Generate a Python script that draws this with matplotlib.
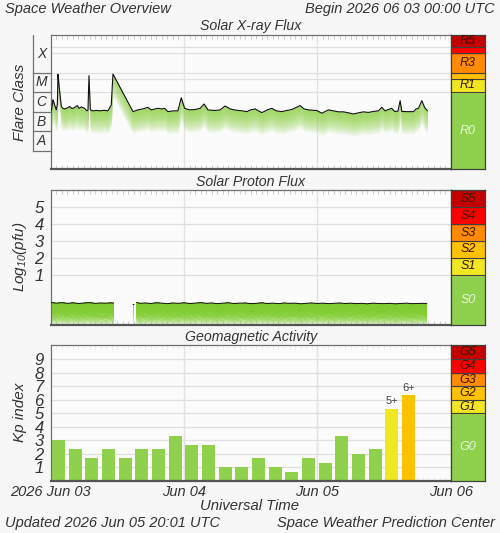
import matplotlib

matplotlib.use("Agg")
import matplotlib.pyplot as plt
import numpy as np

plt.rcParams["font.family"] = "Liberation Sans"
plt.rcParams["font.style"] = "italic"
plt.rcParams["mathtext.fontset"] = "custom"
plt.rcParams["mathtext.rm"] = "Liberation Sans:italic"
plt.rcParams["mathtext.it"] = "Liberation Sans:italic"
plt.rcParams["mathtext.default"] = "it"

# --- data ---
xray_hours = [0.0, 0.2, 0.41, 0.55, 0.72, 1.0, 1.2, 1.31, 1.45, 1.62, 1.91, 2.2, 2.6, 3.0, 3.42,
              3.8, 4.2, 4.79, 5.1, 5.5, 6.1, 6.5, 6.71, 6.89, 7.13, 7.6, 8.3, 8.9, 9.6, 10.3,
              10.9, 11.21, 14.81, 15.7, 16.6, 17.5, 18.1, 18.8, 19.3, 20.0, 20.5, 21.1, 22.0,
              22.9, 23.5, 24.1, 25.0, 26.0, 26.9, 27.6, 28.3, 29.0, 29.6, 30.5, 31.4, 32.3,
              33.0, 33.8, 34.5, 35.3, 36.0, 36.8, 37.4, 38.0, 39.0, 39.8, 40.6, 41.6, 42.5,
              43.4, 44.9, 45.6, 46.4, 47.2, 47.9, 48.8, 50.0, 50.9, 51.8, 52.7, 53.6, 54.5,
              55.4, 56.3, 57.2, 58.1, 59.0, 59.6, 60.2, 60.8, 61.4, 61.9, 62.5, 62.9, 63.2,
              64.2, 65.3, 65.8, 66.2, 66.8, 67.2, 67.4, 67.8]
xray_log = [-5.99, -5.85, -5.39, -5.50, -5.65, -5.90, -5.60, -4.08, -4.50, -4.97, -5.73, -5.82,
            -5.85, -5.80, -5.73, -5.83, -5.80, -5.68, -5.82, -5.75, -5.82, -5.95, -5.90, -4.15,
            -5.90, -5.95, -5.93, -5.95, -5.92, -5.95, -5.65, -4.07, -5.99, -5.90, -5.85, -5.77,
            -5.90, -5.85, -5.82, -5.85, -5.82, -5.99, -5.95, -5.95, -5.28, -5.82, -5.90, -5.88,
            -5.82, -5.60, -5.90, -5.92, -5.93, -5.90, -5.70, -5.85, -5.90, -5.93, -5.95, -5.99,
            -5.90, -5.85, -5.95, -6.04, -5.90, -5.82, -5.95, -5.99, -5.93, -5.88, -5.68, -5.85,
            -5.90, -5.92, -5.93, -6.07, -5.90, -5.95, -6.00, -6.00, -6.05, -6.11, -6.05, -6.00,
            -6.03, -5.98, -5.95, -5.77, -5.95, -5.88, -5.82, -5.98, -5.97, -5.43, -5.98, -5.99,
            -5.99, -5.85, -5.82, -5.43, -5.70, -5.82, -5.94]

proton_hours = [0, 1, 2, 3, 4, 5, 6, 7, 8, 9, 10, 11, 11.3, 12,
                14.85, 14.95, 15.2,
                15.5, 16, 17, 18, 19, 20, 21, 22, 23, 24, 25, 26, 27, 28, 29, 30, 31, 32, 33, 34,
                35, 36, 37, 38, 39, 40, 41, 42, 43, 44, 45, 46, 47, 48, 49, 50, 51, 52, 53, 54,
                55, 56, 57, 58, 59, 60, 61, 62, 63, 64, 65, 66, 67, 67.7]
proton_log = [-0.66, -0.70, -0.67, -0.71, -0.68, -0.72, -0.69, -0.67, -0.71, -0.69, -0.70, -0.68,
              -0.70, np.nan,
              -0.78, -0.78, np.nan,
              -0.66, -0.71, -0.69, -0.72, -0.68, -0.70, -0.73, -0.69, -0.71, -0.68, -0.72, -0.70,
              -0.67, -0.71, -0.69, -0.73, -0.70, -0.68, -0.72, -0.70, -0.69, -0.73, -0.71, -0.68,
              -0.72, -0.70, -0.73, -0.69, -0.71, -0.70, -0.74, -0.71, -0.69, -0.72, -0.70, -0.73,
              -0.71, -0.69, -0.72, -0.70, -0.73, -0.71, -0.74, -0.70, -0.72, -0.73, -0.71, -0.74,
              -0.72, -0.70, -0.73, -0.72, -0.71, -0.73]

kp_values = [3.0, 2.33, 1.67, 2.33, 1.67, 2.33, 2.33, 3.33, 2.67, 2.67, 1.0, 1.0,
             1.67, 1.0, 0.67, 1.67, 1.33, 3.33, 2.0, 2.33, 5.33, 6.33]
kp_labels = ["", "", "", "", "", "", "", "", "", "", "", "",
             "", "", "", "", "", "", "", "", "5+", "6+"]

day_labels = ["2026 Jun 03", "Jun 04", "Jun 05", "Jun 06"]
flare_classes = ["A", "B", "C", "M", "X"]

r_names = ["R0", "R1", "R2", "R3", "R4", "R5"]
r_bounds = [-8.92, -5.0, -4.3, -4.0, -3.0, -2.7, -2.06]
s_names = ["S0", "S1", "S2", "S3", "S4", "S5"]
s_bounds = [-2.0, 1.0, 2.0, 3.0, 4.0, 5.0, 6.03]
g_names = ["G0", "G1", "G2", "G3", "G4", "G5"]
g_bounds = [0.0, 5.0, 6.0, 7.0, 8.0, 9.0, 10.06]

SCALE_COLORS = ["#8fd04c", "#f0e622", "#ffc200", "#ff8a00", "#ff0000", "#c40000"]
GREEN = "#80cc30"
TXT = "#333333"
BG = "#f7f7f7"
IT = dict(family="Liberation Sans", style="italic", color=TXT)

W, H = 500, 533
fig = plt.figure(figsize=(5.0, 5.33), dpi=100, facecolor=BG)


def px_axes(left, top, right, bottom):
    return fig.add_axes([left / W, 1 - bottom / H, (right - left) / W, (bottom - top) / H])


def style_main(ax, ylim):
    ax.set_facecolor("#fbfbfb")
    ax.set_xlim(0, 72)
    ax.set_ylim(*ylim)
    for s in ax.spines.values():
        s.set_color("#707070")
        s.set_linewidth(0.9)
    ax.spines["bottom"].set_color("#555555")
    ax.spines["bottom"].set_linewidth(1.6)
    ax.set_xticks([0, 24, 48, 72])
    ax.set_xticks(np.arange(0, 73, 1), minor=True)
    ax.tick_params(axis="x", which="major", length=0, labelbottom=False)
    ax.tick_params(axis="x", which="minor", direction="in", top=True, bottom=True,
                   length=3, width=0.6, color="#c4c4c4")
    ax.tick_params(axis="y", length=0)
    for d in (24, 48):
        ax.axvline(d, color="#e2e2e2", lw=0.9, zorder=0)


def gradient_fill(ax, x, y, depth, n=40, alpha0=0.95):
    x = np.asarray(x, dtype=float)
    y = np.asarray(y, dtype=float)
    for i in range(n):
        top = y - depth * i / n
        bot = y - depth * (i + 1) / n
        a = alpha0 * (1 - (i / n) ** 1.4)
        ax.fill_between(x, bot, top, color=GREEN, alpha=a, linewidth=0,
                        antialiased=False, zorder=2)


def scale_bar(ax, names, bounds, shown):
    ax.set_xlim(0, 1)
    ax.set_ylim(bounds[0], bounds[-1])
    ax.set_xticks([])
    ax.set_yticks([])
    for s in ax.spines.values():
        s.set_color("#404040")
        s.set_linewidth(0.9)
    for i, name in enumerate(names):
        lo, hi = bounds[i], bounds[i + 1]
        ax.axhspan(lo, hi, color=SCALE_COLORS[i], zorder=1)
        ax.axhline(hi, color="#404040", lw=0.8, zorder=2)
        if name in shown:
            c = "#eaf6dc" if i == 0 else "#3a1500"
            ax.text(0.5, (lo + hi) / 2, name, ha="center", va="center", fontsize=9,
                    family="Liberation Sans", style="italic", color=c, zorder=3)


# --- header / footer ---
fig.text(5 / W, 1 - 9 / H, "Space Weather Overview", ha="left", va="center", fontsize=10.5, **IT)
fig.text(495 / W, 1 - 9 / H, "Begin 2026 06 03 00:00 UTC", ha="right", va="center",
         fontsize=10.5, **IT)
fig.text(5 / W, 1 - 523 / H, "Updated 2026 Jun 05 20:01 UTC", ha="left", va="center",
         fontsize=10.5, **IT)
fig.text(495 / W, 1 - 523 / H, "Space Weather Prediction Center", ha="right", va="center",
         fontsize=10.5, **IT)

# --- X-ray panel ---
ax1 = px_axes(50.7, 34.7, 450.7, 169)
style_main(ax1, (r_bounds[0], r_bounds[-1]))
for v in r_bounds[1:-1]:
    ax1.axhline(v, color="#e0e0e0", lw=0.9, zorder=0)
ax1.set_yticks([])
gradient_fill(ax1, xray_hours, xray_log, 1.15)
ax1.plot(xray_hours, xray_log, color="#111111", lw=0.8, zorder=3)
fig.text(250.7 / W, 1 - 26 / H, "Solar X-ray Flux", ha="center", va="center", fontsize=10.2, **IT)

axc = px_axes(32.7, 34.7, 50.7, 169)
axc.set_xlim(0, 1)
axc.set_ylim(r_bounds[0], r_bounds[-1])
axc.axis("off")
axc.plot([0, 0], [-8, r_bounds[-1]], color="#707070", lw=0.9, clip_on=False)
for k in range(-8, -3):
    axc.plot([0, 1], [k, k], color="#707070", lw=0.9, clip_on=False)
for i, c in enumerate(flare_classes):
    hi = -8 + i + 1 if c != "X" else r_bounds[-1]
    axc.text(0.5, (-8 + i + hi) / 2, c, ha="center", va="center", fontsize=10, **IT)
fig.text(20 / W, 1 - 102 / H, "Flare Class", rotation=90, ha="center", va="center",
         fontsize=11, **IT)

axr = px_axes(450.7, 34.7, 485, 169)
scale_bar(axr, r_names, r_bounds, ["R0", "R1", "R3", "R5"])

# --- proton panel ---
ax2 = px_axes(50.7, 190, 450.7, 325)
style_main(ax2, (s_bounds[0], s_bounds[-1]))
for v in range(1, 6):
    ax2.axhline(v, color="#e0e0e0", lw=0.9, zorder=0)
ax2.set_yticks(range(1, 6))
ax2.tick_params(axis="y", labelsize=12, pad=5, labelcolor=TXT)
gradient_fill(ax2, proton_hours, proton_log, 1.3)
ax2.plot(proton_hours, proton_log, color="#111111", lw=0.7, zorder=3)
fig.text(250.7 / W, 1 - 182 / H, "Solar Proton Flux", ha="center", va="center", fontsize=10.2,
         **IT)
fig.text(20 / W, 1 - 257 / H, "Log$_{10}$(pfu)", rotation=90, ha="center", va="center",
         fontsize=11, **IT)

axs = px_axes(450.7, 190, 485, 325)
scale_bar(axs, s_names, s_bounds, s_names)

# --- Kp panel ---
ax3 = px_axes(50.7, 345, 450.7, 480.8)
style_main(ax3, (g_bounds[0], g_bounds[-1]))
for v in range(1, 10):
    ax3.axhline(v, color="#e0e0e0", lw=0.9, zorder=0)
ax3.set_yticks(range(1, 10))
ax3.tick_params(axis="y", labelsize=12, pad=5, labelcolor=TXT)
kp_x = np.arange(len(kp_values)) * 3 + 1.4
kp_colors = [SCALE_COLORS[0] if v < 5 else SCALE_COLORS[int(v) - 4] for v in kp_values]
ax3.bar(kp_x, kp_values, width=2.3, color=kp_colors, zorder=2)
for x, v, lab in zip(kp_x, kp_values, kp_labels):
    if lab:
        ax3.text(x, v + 0.2, lab, ha="center", va="bottom", fontsize=8,
                 family="Liberation Sans", style="normal", color="#444444")
ax3.tick_params(axis="x", which="minor", color="#e8e8e8")
ax3.set_xticks([0, 24, 48, 72])
ax3.set_xticklabels(day_labels)
ax3.tick_params(axis="x", which="major", labelbottom=True, labelsize=10.5, pad=3,
                labelcolor=TXT)
for d in (24, 48):
    ax3.axvline(d, color="#e2e2e2", lw=0.9, zorder=0)
for lab in ax2.get_yticklabels() + ax3.get_yticklabels() + ax3.get_xticklabels():
    lab.set_fontstyle("italic")
fig.text(250.7 / W, 1 - 337 / H, "Geomagnetic Activity", ha="center", va="center", fontsize=10.2,
         **IT)
fig.text(20 / W, 1 - 412 / H, "Kp index", rotation=90, ha="center", va="center",
         fontsize=11, **IT)
fig.text(250 / W, 1 - 506 / H, "Universal Time", ha="center", va="center", fontsize=10.7, **IT)

axg = px_axes(450.7, 345, 485, 480.8)
scale_bar(axg, g_names, g_bounds, g_names)

fig.savefig("out.png", dpi=100, facecolor=BG)
